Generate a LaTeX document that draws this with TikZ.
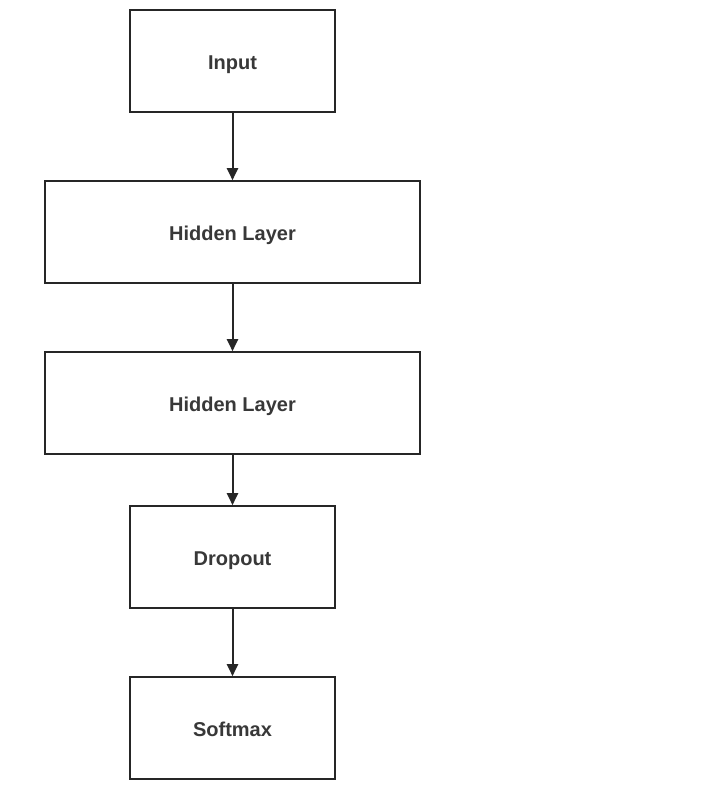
\documentclass[tikz,border=0pt]{standalone}
\usepackage{fontspec}
\setmainfont{Liberation Sans}
\usetikzlibrary{arrows.meta}
\begin{document}
\begin{tikzpicture}[x=1pt,y=-1pt,
  box/.style={draw=black!85, line width=1.6pt, rectangle, inner sep=0pt,
    text height=16pt, text depth=0pt,
    font=\fontsize{20}{24}\selectfont\bfseries, text=black!78},
  small/.style={box, minimum width=205pt, minimum height=102pt},
  wide/.style={box, minimum width=375pt, minimum height=102pt},
  conn/.style={draw=black!85, line width=2pt, -{Triangle[length=12pt,width=11pt]}}]
\useasboundingbox[fill=white] (0,0) rectangle (713,793);
\node[small] (input) at (232.5,61) {Input};
\node[wide] (h1) at (232.5,232) {Hidden Layer};
\node[wide] (h2) at (232.5,403) {Hidden Layer};
\node[small] (drop) at (232.5,557) {Dropout};
\node[small] (soft) at (232.5,728) {Softmax};
\draw[conn] (input.south) -- (h1.north);
\draw[conn] (h1.south) -- (h2.north);
\draw[conn] (h2.south) -- (drop.north);
\draw[conn] (drop.south) -- (soft.north);
\end{tikzpicture}
\end{document}
